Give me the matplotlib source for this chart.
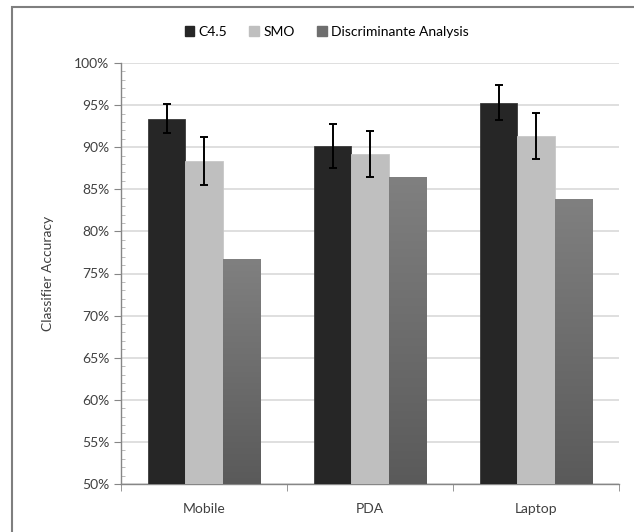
import matplotlib
matplotlib.use("Agg")
import matplotlib.pyplot as plt
import numpy as np
from matplotlib.patches import Rectangle
from matplotlib.ticker import MultipleLocator, PercentFormatter

categories = ["Mobile", "PDA", "Laptop"]
series = ["C4.5", "SMO", "Discriminante Analysis"]
c45 = [93.4, 90.1, 95.3]
c45_err = [1.7, 2.6, 2.05]
smo = [88.4, 89.2, 91.3]
smo_err = [2.85, 2.75, 2.75]
da = [76.7, 86.5, 83.8]

plt.rcParams["font.family"] = ["Lato", "DejaVu Sans"]
plt.rcParams["font.size"] = 10

fig = plt.figure(figsize=(6.34, 5.32), dpi=100)
ax = fig.add_axes([121 / 634, 48 / 532, 498 / 634, 421 / 532])

# outer chart frame like the excel chart area
fig.patches.append(Rectangle((12 / 634, -0.05), 1.05, 0.05 + 525 / 532,
                             transform=fig.transFigure, fill=False,
                             edgecolor="#7f7f7f", linewidth=1.5))

x = np.arange(len(categories))
w = 0.223
ebar = dict(ecolor="black", elinewidth=1.4, capsize=2.6, capthick=1.4)

b1 = ax.bar(x - w, c45, w, bottom=0, color="#262626", edgecolor="#3a3a3a",
            linewidth=0.6, label=series[0], zorder=3)
ax.errorbar(x - w, c45, yerr=c45_err, fmt="none", zorder=4, **ebar)
b2 = ax.bar(x, smo, w, color="#bfbfbf", edgecolor="#c8c8c8",
            linewidth=0.6, label=series[1], zorder=3)
ax.errorbar(x, smo, yerr=smo_err, fmt="none", zorder=4, **ebar)
b3 = ax.bar(x + w, da, w, color="#707070", edgecolor="#6a6a6a",
            linewidth=0.6, label=series[2], zorder=3)

ax.set_xlim(-0.5, 2.5)
ax.set_ylim(50, 100)

# gradient fill for the third series
grad = np.linspace(0, 1, 256).reshape(-1, 1)
cmap = matplotlib.colors.LinearSegmentedColormap.from_list("g", ["#5a5a5a", "#808080"])
for bar in b3:
    bx, by = bar.get_x(), bar.get_y()
    bw, bh = bar.get_width(), bar.get_height()
    im = ax.imshow(grad, cmap=cmap, aspect="auto", origin="lower",
                   extent=[bx, bx + bw, 50, by + bh], zorder=3.5)
    im.set_clip_path(bar)
ax.set_xlim(-0.5, 2.5)
ax.set_ylim(50, 100)

ax.yaxis.set_major_locator(MultipleLocator(5))
ax.yaxis.set_minor_locator(MultipleLocator(1))
ax.yaxis.set_major_formatter(PercentFormatter(decimals=0))
ax.set_xticks(x)
ax.set_xticklabels(categories)
ax.set_xticks([-0.5, 0.5, 1.5, 2.5], minor=True)
ax.tick_params(axis="x", which="major", length=0, pad=14, colors="#404040")
ax.tick_params(axis="x", which="minor", length=5, color="#868686", direction="out")
ax.tick_params(axis="y", which="major", length=5, color="#868686", direction="out",
               colors="#404040", labelcolor="#404040")
ax.tick_params(axis="y", which="minor", length=3, color="#b0b0b0", direction="in")
ax.tick_params(axis="y", which="major", color="#868686")

ax.grid(axis="y", color="#d9d9d9", linewidth=1.2, zorder=0)
for s in ["top", "right"]:
    ax.spines[s].set_visible(False)
for s in ["left", "bottom"]:
    ax.spines[s].set_color("#868686")
    ax.spines[s].set_linewidth(1)

ax.set_ylabel("Classifier Accuracy", color="#404040", labelpad=14)

handles = [Rectangle((0, 0), 1, 1, color=c) for c in ["#262626", "#bfbfbf", "#6e6e6e"]]
fig.legend(handles, series, loc="center", bbox_to_anchor=(0.515, 1 - 32 / 532),
           ncol=3, frameon=False, handlelength=0.7, handleheight=0.7,
           handletextpad=0.3, columnspacing=1.6)

fig.savefig("out.png", dpi=100)
